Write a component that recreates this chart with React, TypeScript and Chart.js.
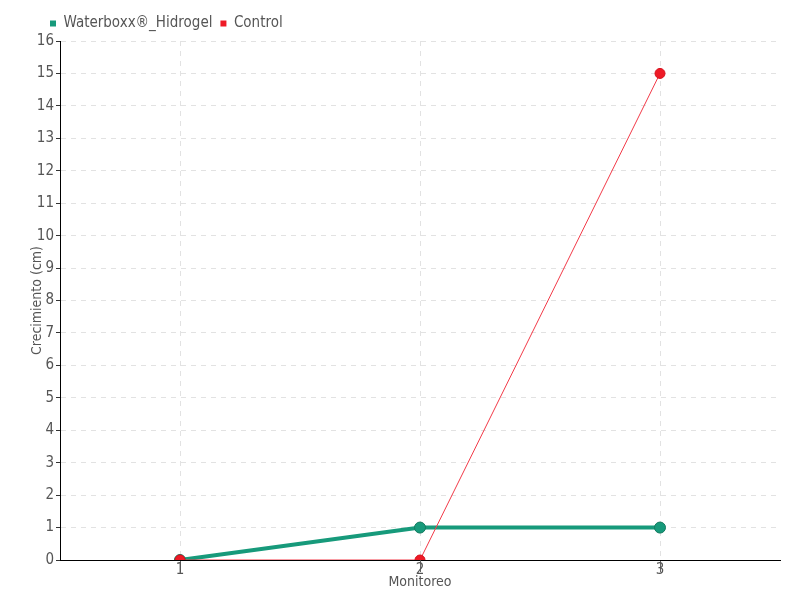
import React, { useEffect, useRef } from "react";
import { Chart, registerables } from "chart.js";

Chart.register(...registerables);

const categories = ["1", "2", "3"];
const waterboxxValues = [0, 1, 1];
const controlValues = [0, 0, 15];
const seriesNames = ["Waterboxx®_Hidrogel", "Control"];
const xTitle = "Monitoreo";
const yTitle = "Crecimiento (cm)";

const FONT = "'DejaVu Sans Condensed', 'Liberation Sans Narrow', 'Roboto', sans-serif";
const GREEN = "#179a7b";
const GREEN_DARK = "#137a5f";
const RED = "#ee1a26";

const legendShift = {
  id: "legendShift",
  beforeDraw(chart: any) {
    if (chart.legend) {
      const dx = 42 - chart.legend.left;
      chart.legend.left += dx;
      chart.legend.right += dx;
    }
  },
};

export default function App() {
  const ref = useRef<HTMLCanvasElement | null>(null);
  useEffect(() => {
    if (!ref.current) return;
    const chart = new Chart(ref.current, {
      type: "line",
      data: {
        labels: categories,
        datasets: [
          {
            label: seriesNames[0],
            data: waterboxxValues,
            borderColor: GREEN,
            backgroundColor: GREEN,
            borderWidth: 4,
            pointRadius: 5.5,
            pointBorderWidth: 1,
            pointBorderColor: GREEN_DARK,
            pointBackgroundColor: GREEN,
            tension: 0,
            order: 2,
          },
          {
            label: seriesNames[1],
            data: controlValues,
            borderColor: "#f23a48",
            backgroundColor: RED,
            borderWidth: 1,
            pointRadius: 5,
            pointBorderWidth: 1,
            pointBorderColor: "#d8101c",
            pointBackgroundColor: RED,
            tension: 0,
            order: 1,
          },
        ],
      },
      plugins: [legendShift],
      options: {
        animation: false,
        responsive: false,
        layout: { padding: { top: 8, right: 20, left: 0, bottom: 0 } },
        plugins: {
          legend: {
            position: "top",
            align: "start",
            labels: {
              boxWidth: 6,
              boxHeight: 6,
              padding: 8,
              color: "#555",
              font: { family: FONT, size: 15 },
              generateLabels: (c: any) =>
                c.data.datasets.map((ds: any, i: number) => ({
                  text: ds.label,
                  fillStyle: ds.backgroundColor,
                  strokeStyle: ds.backgroundColor,
                  lineWidth: 0,
                  hidden: false,
                  datasetIndex: i,
                  fontColor: "#555",
                })),
            },
          },
          tooltip: { enabled: false },
        },
        scales: {
          x: {
            type: "category",
            offset: true,
            grid: {
              color: "#e2e2e2",
              tickBorderDash: [],
              tickColor: "#666",
              tickLength: 12,
              drawOnChartArea: true,
            },
            border: { display: true, color: "#000", width: 1, dash: [5, 5] },
            ticks: { color: "#555", font: { family: FONT, size: 15 }, padding: -11 },
            title: {
              display: true,
              text: xTitle,
              color: "#555",
              font: { family: FONT, size: 14 },
              padding: { top: 0, bottom: 9 },
            },
            afterFit: (s: any) => { s.height = 40; },
          },
          y: {
            min: 0,
            max: 16,
            ticks: { stepSize: 1, color: "#555", font: { family: FONT, size: 15 }, padding: 2 },
            grid: {
              color: "#e2e2e2",
              tickBorderDash: [],
              tickColor: "#333",
              tickLength: 4,
            },
            border: { display: true, color: "#000", width: 1, dash: [5, 5] },
            title: {
              display: true,
              text: yTitle,
              color: "#555",
              font: { family: FONT, size: 14 },
              padding: { top: 29, bottom: 0 },
            },
            afterFit: (s: any) => { s.width = 60; },
          },
        },
      },
    });
    return () => chart.destroy();
  }, []);
  return (
    <div style={{ position: "fixed", left: 0, top: 0, width: 800, height: 600, background: "#fff" }}>
      <canvas ref={ref} width={800} height={600} style={{ width: 800, height: 600 }} />
    </div>
  );
}
